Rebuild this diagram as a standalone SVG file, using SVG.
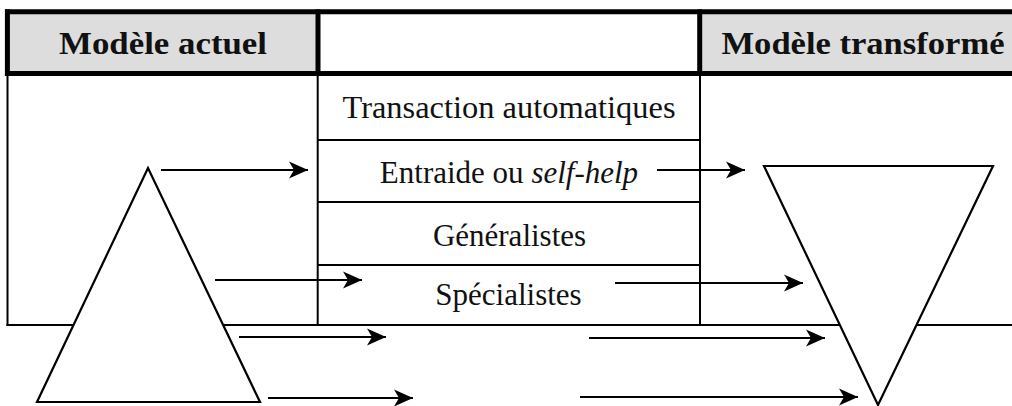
<svg xmlns="http://www.w3.org/2000/svg" width="1012" height="406" viewBox="0 0 1012 406">
<style>
  .hdr { fill: #dddddd; stroke: none; }
  .thick { stroke: #000; stroke-width: 5; fill: none; }
  .thin { stroke: #000; stroke-width: 2; fill: none; }
  .tri { fill: #fff; stroke: #000; stroke-width: 2.2; stroke-linejoin: miter; }
  .h { font-family: "Liberation Serif", "DejaVu Serif", serif; font-weight: bold; font-size: 32px; fill: #111; text-anchor: middle; }
  .t { font-family: "Liberation Serif", "DejaVu Serif", serif; font-size: 31px; fill: #111; text-anchor: middle; }
  .arr { stroke: #000; stroke-width: 2; fill: none; marker-end: url(#ah); }
</style>
<defs>
  <marker id="ah" markerUnits="userSpaceOnUse" markerWidth="20" markerHeight="20" viewBox="0 -10 20 20" refX="19" refY="0" orient="auto">
    <path d="M0,-8.5 L19,0 L0,8.5 L5,0 z" fill="#000"/>
  </marker>
</defs>
<rect width="1012" height="406" fill="#fff"/>

<g id="header-actuel">
  <rect class="hdr" x="7" y="12" width="311" height="62"/>
  <text class="h" x="163" y="54" textLength="208" lengthAdjust="spacingAndGlyphs">Modèle actuel</text>
</g>
<g id="header-middle">
  <rect x="318" y="12" width="382" height="62" fill="#fff"/>
</g>
<g id="header-transforme">
  <rect class="hdr" x="700" y="12" width="312" height="62"/>
  <text class="h" x="863" y="54" textLength="283" lengthAdjust="spacingAndGlyphs">Modèle transformé</text>
</g>
<g id="header-frame">
  <line class="thick" x1="5" y1="11.7" x2="1012" y2="11.7"/>
  <line class="thick" x1="5" y1="73.4" x2="1012" y2="73.4"/>
  <line class="thick" x1="7.4" y1="9.4" x2="7.4" y2="76"/>
  <line class="thick" x1="318" y1="9.4" x2="318" y2="76"/>
  <line class="thick" x1="699.7" y1="9.4" x2="699.7" y2="76"/>
</g>

<g id="body-frame">
  <line class="thin" x1="7.5" y1="75" x2="7.5" y2="326"/>
  <line class="thin" x1="6.5" y1="325" x2="1012" y2="325"/>
  <line class="thin" x1="317.7" y1="75" x2="317.7" y2="326"/>
  <line class="thin" x1="700" y1="75" x2="700" y2="326"/>
</g>

<g id="row-transaction">
  <text class="t" x="509" y="118" textLength="333" lengthAdjust="spacingAndGlyphs">Transaction automatiques</text>
</g>
<g id="row-entraide">
  <line class="thin" x1="317.7" y1="140" x2="700" y2="140"/>
  <text class="t" x="509" y="183">Entraide ou <tspan font-style="italic">self-help</tspan></text>
</g>
<g id="row-generalistes">
  <line class="thin" x1="317.7" y1="202" x2="700" y2="202"/>
  <text class="t" x="509.5" y="246">Généralistes</text>
</g>
<g id="row-specialistes">
  <line class="thin" x1="317.7" y1="265" x2="700" y2="265"/>
  <text class="t" x="508.5" y="305">Spécialistes</text>
</g>

<g id="triangle-actuel">
  <polygon class="tri" points="148,168 37,402 260,402"/>
</g>
<g id="triangle-transforme">
  <polygon class="tri" points="764,166 993,166 878,405"/>
</g>

<g id="connectors">
  <line class="arr" x1="161" y1="170" x2="308" y2="170"/>
  <line class="arr" x1="215" y1="280" x2="362" y2="280"/>
  <line class="arr" x1="239" y1="337" x2="386" y2="337"/>
  <line class="arr" x1="268" y1="398" x2="413" y2="398"/>
  <line class="arr" x1="657" y1="170" x2="745" y2="170"/>
  <line class="arr" x1="615" y1="283" x2="803" y2="283"/>
  <line class="arr" x1="589" y1="338" x2="825" y2="338"/>
  <line class="arr" x1="580" y1="397" x2="858" y2="397"/>
</g>
</svg>
